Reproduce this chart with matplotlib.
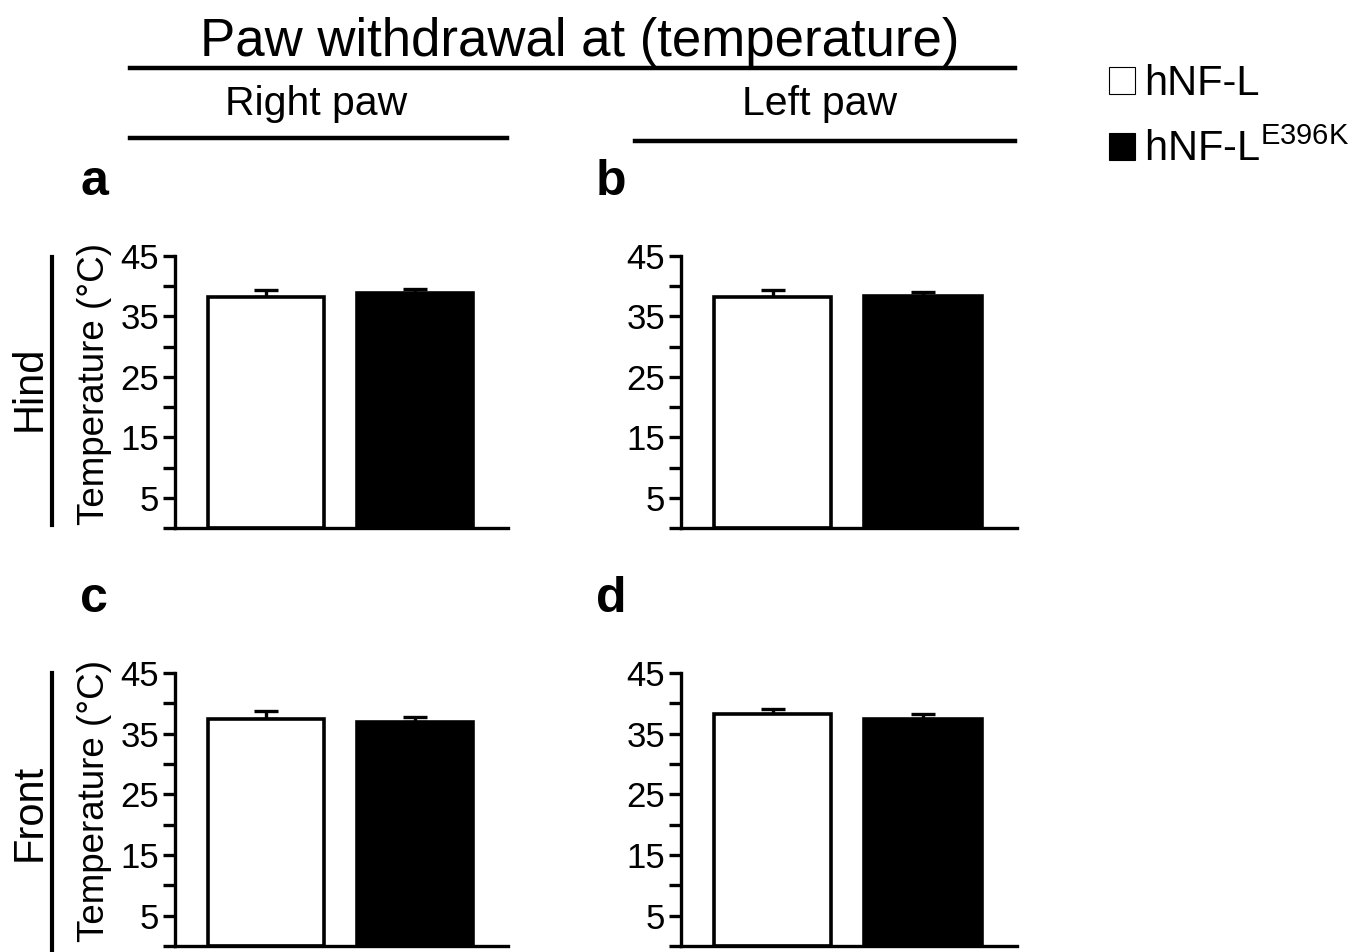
import matplotlib
matplotlib.use("Agg")
import matplotlib.pyplot as plt
from matplotlib.lines import Line2D
from matplotlib.patches import Patch
from matplotlib.ticker import FixedLocator

plt.rcParams['font.family'] = ['Liberation Sans', 'DejaVu Sans']
plt.rcParams['mathtext.fontset'] = 'custom'
plt.rcParams['mathtext.rm'] = 'Liberation Sans'
plt.rcParams['mathtext.it'] = 'Liberation Sans'

# ---------------- data ----------------
groups = ['hNF-L', 'hNF-L$^{\\mathrm{E396K}}$']
bar_colors = ['white', 'black']

right_hind_mean = [38.2, 38.8]
right_hind_sem = [1.1, 0.8]
left_hind_mean = [38.2, 38.4]
left_hind_sem = [1.1, 0.7]
right_front_mean = [37.5, 37.0]
right_front_sem = [1.3, 0.8]
left_front_mean = [38.3, 37.5]
left_front_sem = [0.8, 0.8]

major_ticks = [0, 5, 15, 25, 35, 45]
major_labels = ['', '5', '15', '25', '35', '45']
minor_ticks = [10, 20, 30, 40]

title = 'Paw withdrawal at (temperature)'
col_titles = ['Right paw', 'Left paw']
row_titles = ['Hind', 'Front']
panel_letters = ['a', 'b', 'c', 'd']
ylabel = 'Temperature (°C)'

# ---------------- layout helpers ----------------
W, H = 1368, 952
fig = plt.figure(figsize=(W / 100, H / 100), dpi=100)


def fx(x):
    return x / W


def fy(y):
    return 1 - y / H


def axes_px(left, right, top, bottom):
    return [fx(left), fy(bottom), (right - left) / W, (bottom - top) / H]


LW = 2.4
panels = [
    (axes_px(175, 508, 256, 528), right_hind_mean, right_hind_sem, True),
    (axes_px(681, 1017, 256, 528), left_hind_mean, left_hind_sem, False),
    (axes_px(175, 508, 673, 946), right_front_mean, right_front_sem, True),
    (axes_px(681, 1017, 673, 946), left_front_mean, left_front_sem, False),
]

x = [0, 1]
for rect, mean, sem, show_ylabel in panels:
    ax = fig.add_axes(rect)
    ax.bar(x, mean, width=0.78, color=bar_colors, edgecolor='black',
           linewidth=2.6, zorder=2)
    ax.errorbar(x, mean, yerr=[[0, 0], sem], fmt='none', ecolor='black',
                elinewidth=2.4, capsize=8.5, capthick=2.4, zorder=1)
    ax.set_xlim(-0.61, 1.625)
    ax.set_ylim(0, 45)
    ax.yaxis.set_major_locator(FixedLocator(major_ticks))
    ax.set_yticklabels(major_labels)
    ax.yaxis.set_minor_locator(FixedLocator(minor_ticks))
    ax.tick_params(axis='y', which='both', length=8.5, width=LW,
                   labelsize=25, pad=3)
    ax.set_xticks([])
    for s in ['top', 'right']:
        ax.spines[s].set_visible(False)
    for s in ['left', 'bottom']:
        ax.spines[s].set_linewidth(LW)
    ax.patch.set_alpha(0)
    if show_ylabel:
        ax.set_ylabel(ylabel, fontsize=26.5)
        ax.yaxis.set_label_coords(-0.19, 0.53)

# ---------------- titles & decorations ----------------
fig.text(fx(580), fy(56), title, ha='center', va='baseline', fontsize=38)
fig.add_artist(Line2D([fx(130), fx(1015)], [fy(68), fy(68)], color='black',
                      lw=3.2, transform=fig.transFigure))
fig.text(fx(316), fy(115), col_titles[0], ha='center', va='baseline', fontsize=29.5)
fig.text(fx(820), fy(115), col_titles[1], ha='center', va='baseline', fontsize=29.5)
fig.add_artist(Line2D([fx(130), fx(507)], [fy(138), fy(138)], color='black',
                      lw=3.2, transform=fig.transFigure))
fig.add_artist(Line2D([fx(635), fx(1015)], [fy(141), fy(141)], color='black',
                      lw=3.2, transform=fig.transFigure))

for letter, (lx, ly) in zip(panel_letters, [(80, 195), (596, 195), (80, 612), (596, 612)]):
    fig.text(fx(lx), fy(ly), letter, ha='left', va='baseline', fontsize=36,
             fontweight='bold')

fig.text(fx(30), fy(388), row_titles[0], rotation=90, ha='center', va='center',
         fontsize=30)
fig.text(fx(30), fy(812), row_titles[1], rotation=90, ha='center', va='center',
         fontsize=30)
fig.add_artist(Line2D([fx(52), fx(52)], [fy(257), fy(525)], color='black',
                      lw=3.0, transform=fig.transFigure))
fig.add_artist(Line2D([fx(52), fx(52)], [fy(673), fy(952)], color='black',
                      lw=3.0, transform=fig.transFigure))

# ---------------- legend ----------------
handles = [Patch(facecolor=c, edgecolor='black', linewidth=0.8) for c in bar_colors]
fig.legend(handles, groups, loc='upper left', bbox_to_anchor=(fx(1109), fy(64)),
           frameon=False, fontsize=30, handlelength=0.62, handleheight=0.62,
           handletextpad=0.22, labelspacing=0.62, borderpad=0, borderaxespad=0)

fig.savefig('out.png', dpi=100)
